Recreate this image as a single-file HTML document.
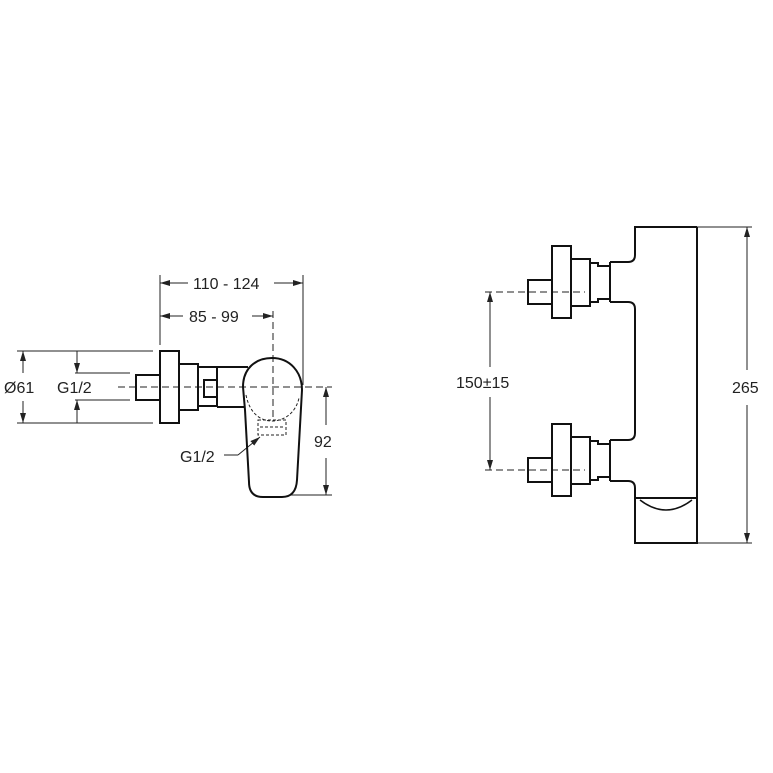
<!DOCTYPE html>
<html><head><style>
html,body{margin:0;padding:0;background:#fff;}
svg{display:block}
text{font-family:"Liberation Sans",sans-serif;font-size:16px;fill:#222}
</style></head><body>
<svg width="773" height="773" viewBox="0 0 773 773" xmlns="http://www.w3.org/2000/svg">
<defs>
<marker id="a" viewBox="0 0 10 6" refX="10" refY="3" markerWidth="10" markerHeight="6" orient="auto-start-reverse" markerUnits="userSpaceOnUse"><path d="M0,0 L10,3 L0,6 z" fill="#222"/></marker>
</defs>
<rect width="773" height="773" fill="#fff"/>
<g stroke="#222" stroke-width="1" fill="none">
<line x1="160" y1="275" x2="160" y2="345"/>
<line x1="303" y1="275" x2="303" y2="385"/>
<line x1="160" y1="283" x2="188" y2="283" marker-start="url(#a)"/>
<line x1="274" y1="283" x2="303" y2="283" marker-end="url(#a)"/>
<line x1="160" y1="316" x2="183" y2="316" marker-start="url(#a)"/>
<line x1="252" y1="316" x2="273" y2="316" marker-end="url(#a)"/>
<line x1="273" y1="311" x2="273" y2="420" stroke-dasharray="7,4"/>
<line x1="17" y1="351" x2="153" y2="351"/>
<line x1="17" y1="423" x2="153" y2="423"/>
<line x1="23" y1="351" x2="23" y2="373" marker-start="url(#a)"/>
<line x1="23" y1="401" x2="23" y2="423" marker-end="url(#a)"/>
<line x1="75" y1="373" x2="130" y2="373"/>
<line x1="75" y1="400" x2="130" y2="400"/>
<line x1="77" y1="351" x2="77" y2="373" marker-end="url(#a)"/>
<line x1="77" y1="423" x2="77" y2="400" marker-end="url(#a)"/>
<line x1="118" y1="387" x2="332" y2="387" stroke-dasharray="7,4"/>
<line x1="326" y1="387" x2="326" y2="425" marker-start="url(#a)"/>
<line x1="326" y1="458" x2="326" y2="495" marker-end="url(#a)"/>
<line x1="290" y1="495" x2="332" y2="495"/>
<line x1="224" y1="455" x2="238" y2="455"/>
<line x1="238" y1="455" x2="260" y2="437" marker-end="url(#a)"/>
</g>
<g stroke="#111" stroke-width="2" fill="none">
<rect x="136" y="375" width="24" height="25"/>
<rect x="160" y="351" width="19" height="72"/>
<rect x="179" y="364" width="19" height="46"/>
<rect x="198" y="367" width="19" height="39"/>
<rect x="204" y="380" width="13" height="17"/>
<path d="M217,367 L248,367 M217,407 L244,407"/>
<path d="M243,387 C243,368 256,358 272,358 C290,358 302,372 302,390 L297,480 Q296,497 282,497 L263,497 Q249,497 249,482 L245,410 Z"/>
</g>
<g stroke="#222" stroke-width="1" fill="none" stroke-dasharray="3,2">
<path d="M246,395 C250,415 262,421 272,421 C285,421 296,412 299,398"/>
<rect x="258" y="420" width="28" height="15"/>
<line x1="260" y1="427" x2="284" y2="427"/>
</g>
<text x="193" y="289">110 - 124</text>
<text x="189" y="322">85 - 99</text>
<text x="4" y="393">Ø61</text>
<text x="57" y="393">G1/2</text>
<text x="180" y="462">G1/2</text>
<text x="314" y="447">92</text>

<g stroke="#222" stroke-width="1" fill="none">
<line x1="697" y1="227" x2="752" y2="227"/>
<line x1="697" y1="543" x2="752" y2="543"/>
<line x1="747" y1="227" x2="747" y2="370" marker-start="url(#a)"/>
<line x1="747" y1="405" x2="747" y2="543" marker-end="url(#a)"/>
<line x1="485" y1="292" x2="585" y2="292" stroke-dasharray="7,4"/>
<line x1="485" y1="470" x2="585" y2="470" stroke-dasharray="7,4"/>
<line x1="490" y1="292" x2="490" y2="367" marker-start="url(#a)"/>
<line x1="490" y1="397" x2="490" y2="470" marker-end="url(#a)"/>
</g>
<g stroke="#111" stroke-width="2" fill="none">
<path d="M697,227 L635,227 L635,255 Q635,262 628,262 L610,262"/>
<path d="M610,302 L628,302 Q635,302 635,309 L635,433 Q635,440 628,440 L610,440"/>
<path d="M610,481 L628,481 Q635,481 635,488 L635,543 L697,543 L697,227"/>
<path d="M635,498 L697,498"/>
<path d="M640,500 Q666,520 692,500" stroke-width="1.5"/>
<g id="f">
<rect x="528" y="280" width="24" height="24"/>
<rect x="552" y="246" width="19" height="72"/>
<rect x="571" y="259" width="19" height="47"/>
<path d="M590,263 L598,263 L598,266 L610,266 L610,299 L598,299 L598,302 L590,302"/>
</g>
<use href="#f" transform="translate(0,178)"/>
<line x1="610" y1="262" x2="610" y2="302"/>
<line x1="610" y1="440" x2="610" y2="481"/>
</g>
<text x="456" y="388">150±15</text>
<text x="732" y="393">265</text>
</svg>
</body></html>
